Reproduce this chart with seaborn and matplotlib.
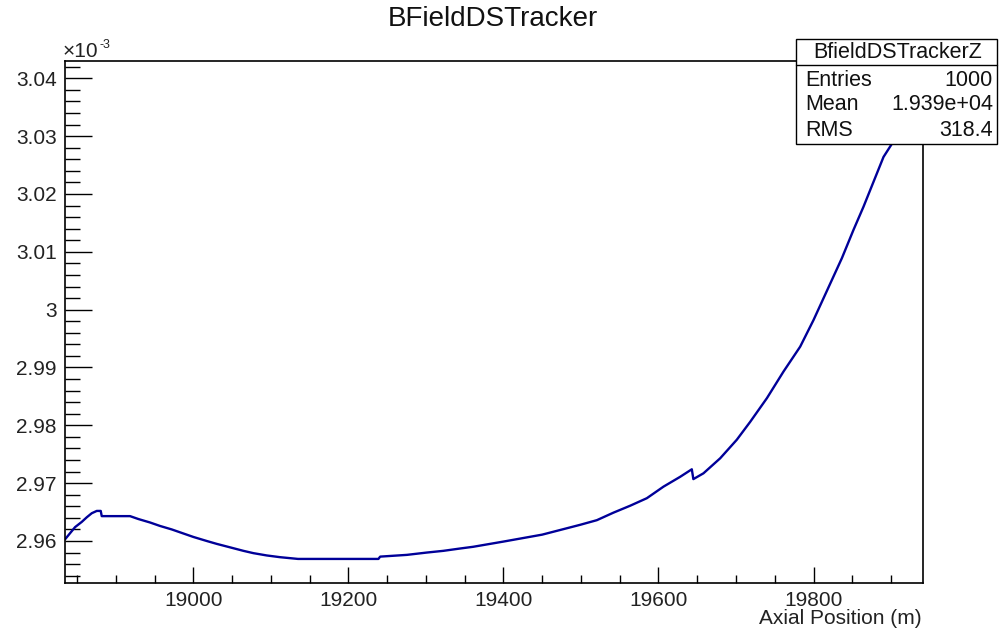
import matplotlib
matplotlib.use("Agg")
import matplotlib.pyplot as plt
from matplotlib.ticker import FixedLocator, MultipleLocator
from matplotlib.patches import Rectangle
from matplotlib.lines import Line2D
import seaborn as sns

# ---- data (axial position, field in units of 1e-3) ----
position = [18834.5, 18847.4, 18856.0, 18862.5, 18868.9, 18875.4, 18880.5, 18881.8,
            18918.3, 18929.0, 18944.1, 18957.0, 18972.1, 18987.1, 19000.0, 19017.3,
            19030.2, 19047.4, 19064.5, 19077.4, 19094.7, 19111.9, 19135.0, 19238.7,
            19241.0, 19275.4, 19301.0, 19322.6, 19344.0, 19361.0, 19400.0, 19450.0,
            19499.0, 19520.5, 19541.9, 19563.5, 19585.0, 19606.5, 19628.0, 19643.0,
            19645.0, 19658.0, 19679.6, 19701.0, 19718.3, 19739.9, 19761.3, 19782.8,
            19800.0, 19836.6, 19851.6, 19864.5, 19877.4, 19890.3, 19900.3, 19940.3]
field = [2.9603, 2.9624, 2.9633, 2.9641, 2.9648, 2.9652, 2.9652, 2.9643,
         2.9643, 2.9638, 2.9632, 2.9626, 2.9620, 2.9613, 2.9607, 2.9600,
         2.9595, 2.9589, 2.9583, 2.9579, 2.9575, 2.9572, 2.9569, 2.9569,
         2.9573, 2.9576, 2.9580, 2.9583, 2.9587, 2.9590, 2.9599, 2.9611,
         2.9628, 2.9636, 2.9649, 2.9661, 2.9674, 2.9694, 2.9711, 2.9724,
         2.9707, 2.9717, 2.9743, 2.9775, 2.9806, 2.9847, 2.9893, 2.9936,
         2.9982, 3.0089, 3.0138, 3.0178, 3.0221, 3.0264, 3.0285, 3.0389]

x_ticks = [19000, 19200, 19400, 19600, 19800]
x_tick_labels = ["19000", "19200", "19400", "19600", "19800"]
y_ticks = [2.96, 2.97, 2.98, 2.99, 3.00, 3.01, 3.02, 3.03, 3.04]
y_tick_labels = ["2.96", "2.97", "2.98", "2.99", "3", "3.01", "3.02", "3.03", "3.04"]

title = "BFieldDSTracker"
x_label = "Axial Position (m)"
stats_name = "BfieldDSTrackerZ"
stats_rows = [("Entries", "1000"), ("Mean", "1.939e+04"), ("RMS", "318.4")]

sns.set_theme(style="white")
plt.rcParams["font.family"] = ["Liberation Sans", "DejaVu Sans"]

W, H = 999, 634
fig = plt.figure(figsize=(W / 100, H / 100), dpi=100)
L, R, T, B = 65, 922.5, 61, 582.7
ax = fig.add_axes([L / W, 1 - B / H, (R - L) / W, (B - T) / H])

sns.lineplot(x=position, y=field, ax=ax, color="#000099", linewidth=1.7,
             estimator=None, sort=False)

ax.set_xlim(18834.4, 19940.6)
ax.set_ylim(2.95279, 3.04299)

ax.xaxis.set_major_locator(FixedLocator(x_ticks))
ax.set_xticklabels(x_tick_labels)
ax.xaxis.set_minor_locator(MultipleLocator(50))
ax.yaxis.set_major_locator(FixedLocator(y_ticks))
ax.set_yticklabels(y_tick_labels)
ax.yaxis.set_minor_locator(MultipleLocator(0.002))

ax.tick_params(axis="y", which="major", direction="in", length=19.4, width=1.0,
               labelsize=15, pad=5.8, colors="black", left=True, right=False)
ax.tick_params(axis="y", which="minor", direction="in", length=10.8, width=1.0,
               left=True, right=False, colors="black")
ax.tick_params(axis="x", which="major", direction="in", length=11.5, width=1.0,
               labelsize=15, pad=6, colors="black", bottom=True, top=False)
ax.tick_params(axis="x", which="minor", direction="in", length=5.8, width=1.0,
               bottom=True, top=False, colors="black")
for lab in ax.get_xticklabels() + ax.get_yticklabels():
    lab.set_color("#222222")

for sp in ax.spines.values():
    sp.set_visible(True)
    sp.set_color("black")
    sp.set_linewidth(1.2)
ax.set_xlabel("")
ax.set_ylabel("")
ax.grid(False)

# axis label
fig.text(922 / W, 1 - 619 / H, x_label, ha="right", va="center", fontsize=15, color="#222222")
# exponent
fig.text(63 / W, 1 - 57 / H, "\u00d710", ha="left", va="baseline", fontsize=15, color="#222222")
fig.text(100 / W, 1 - 39 / H, "-3", ha="left", va="top", fontsize=9, color="#222222")
# title
fig.text(493 / W, 1 - 19 / H, title, ha="center", va="center", fontsize=20, color="#111111")

# stats box
bx0, bx1, by0, by1 = 796, 997, 39, 143.5
fig.add_artist(Rectangle((bx0 / W, 1 - by1 / H), (bx1 - bx0) / W, (by1 - by0) / H,
                         transform=fig.transFigure, facecolor="white", edgecolor="black",
                         linewidth=1.0, zorder=5))
fig.add_artist(Line2D([bx0 / W, bx1 / W], [1 - 65 / H, 1 - 65 / H],
                      transform=fig.transFigure, color="black", linewidth=1.0, zorder=6))
fig.text(898 / W, 1 - 52 / H, stats_name, ha="center", va="center", fontsize=15.5,
         color="#111111", zorder=7)
row_y = [80, 105, 130]
for (k, v), yy in zip(stats_rows, row_y):
    fig.text(805 / W, 1 - yy / H, k, ha="left", va="center", fontsize=15.5,
             color="#111111", zorder=7)
    fig.text(993 / W, 1 - yy / H, v, ha="right", va="center", fontsize=15.5,
             color="#111111", zorder=7)

fig.savefig("out.png", dpi=100)
